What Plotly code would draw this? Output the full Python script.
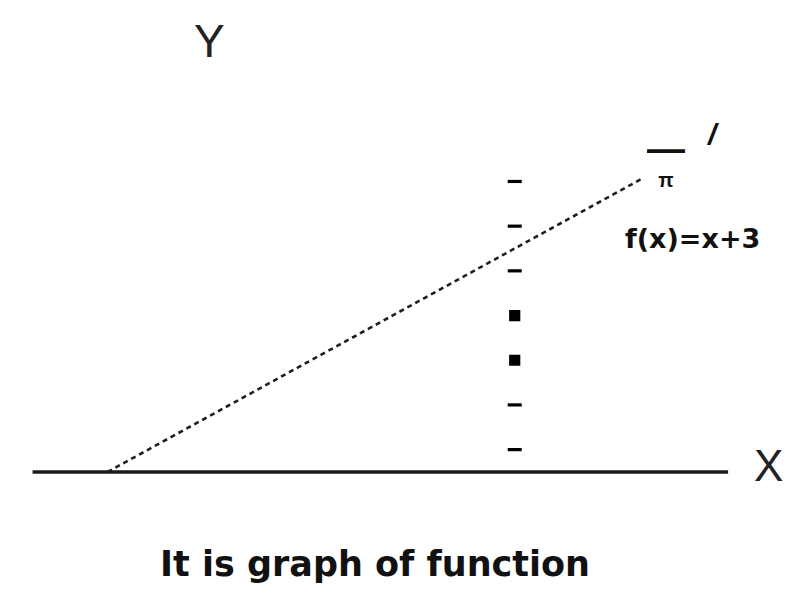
import plotly.graph_objects as go

# f(x) = x + 3, drawn from its root x = -3 up to x = 3.55
line_x = [-3.0, 3.55]
line_y = [v + 3 for v in line_x]

# marks along the guide at x = 2
guide_x = 2.0
guide_y = [0.5, 1.5, 2.5, 3.5, 4.5, 5.5, 6.5]
guide_symbols = ["line-ew", "line-ew", "square", "square", "line-ew", "line-ew", "line-ew"]
guide_sizes = [10, 10, 8, 8, 10, 10, 10]

# horizontal axis extent
axis_x = [-3.92, 4.62]
axis_y = [0, 0]

caption = "It is graph of function"
formula = "f(x)=x+3"

fig = go.Figure()

fig.add_trace(go.Scatter(
    x=axis_x, y=axis_y, mode="lines",
    line=dict(color="#1a1a1a", width=3.5), hoverinfo="skip"))

fig.add_trace(go.Scatter(
    x=line_x, y=line_y, mode="lines",
    line=dict(color="#1e1e1e", width=2.6, dash="5px,4px"), hoverinfo="skip"))

fig.add_trace(go.Scatter(
    x=[guide_x] * len(guide_y), y=guide_y, mode="markers",
    marker=dict(symbol=guide_symbols, size=guide_sizes, color="#000000",
                opacity=1, line=dict(color="#000000", width=3.2)),
    hoverinfo="skip"))

font = "Liberation Sans, Arial, sans-serif"
bold = "DejaVu Sans, sans-serif"
bar_pi = ('<span style="font-size:38px"><b>—</b></span><br>'
          '<span style="font-size:20px"><b>π</b></span>')
ann = [
    dict(x=-1.75, y=9.65, text="Y", font=dict(size=46, color="#222", family=font)),
    dict(x=5.11, y=0.15, text="X", font=dict(size=44, color="#222", family=font)),
    dict(x=4.18, y=5.22, text="<b>" + formula + "</b>", font=dict(size=27, color="#111", family=bold)),
    dict(x=3.86, y=7.0, text=bar_pi, font=dict(size=19, color="#111", family=font)),
    dict(x=4.43, y=7.55, text="<b><i>/</i></b>", font=dict(size=30, color="#111", family=font)),
    dict(x=0.29, y=-2.05, text="<b>" + caption + "</b>", font=dict(size=35, color="#111", family=bold)),
]
for a in ann:
    a.update(xref="x", yref="y", showarrow=False, xanchor="center", yanchor="middle")

fig.update_layout(
    width=790, height=598,
    margin=dict(l=0, r=0, t=0, b=0),
    paper_bgcolor="white", plot_bgcolor="white",
    showlegend=False,
    annotations=ann,
    xaxis=dict(range=[-4.32, 5.38], visible=False, fixedrange=True),
    yaxis=dict(range=[-2.82, 10.56], visible=False, fixedrange=True),
)

fig.write_html("out.html")
